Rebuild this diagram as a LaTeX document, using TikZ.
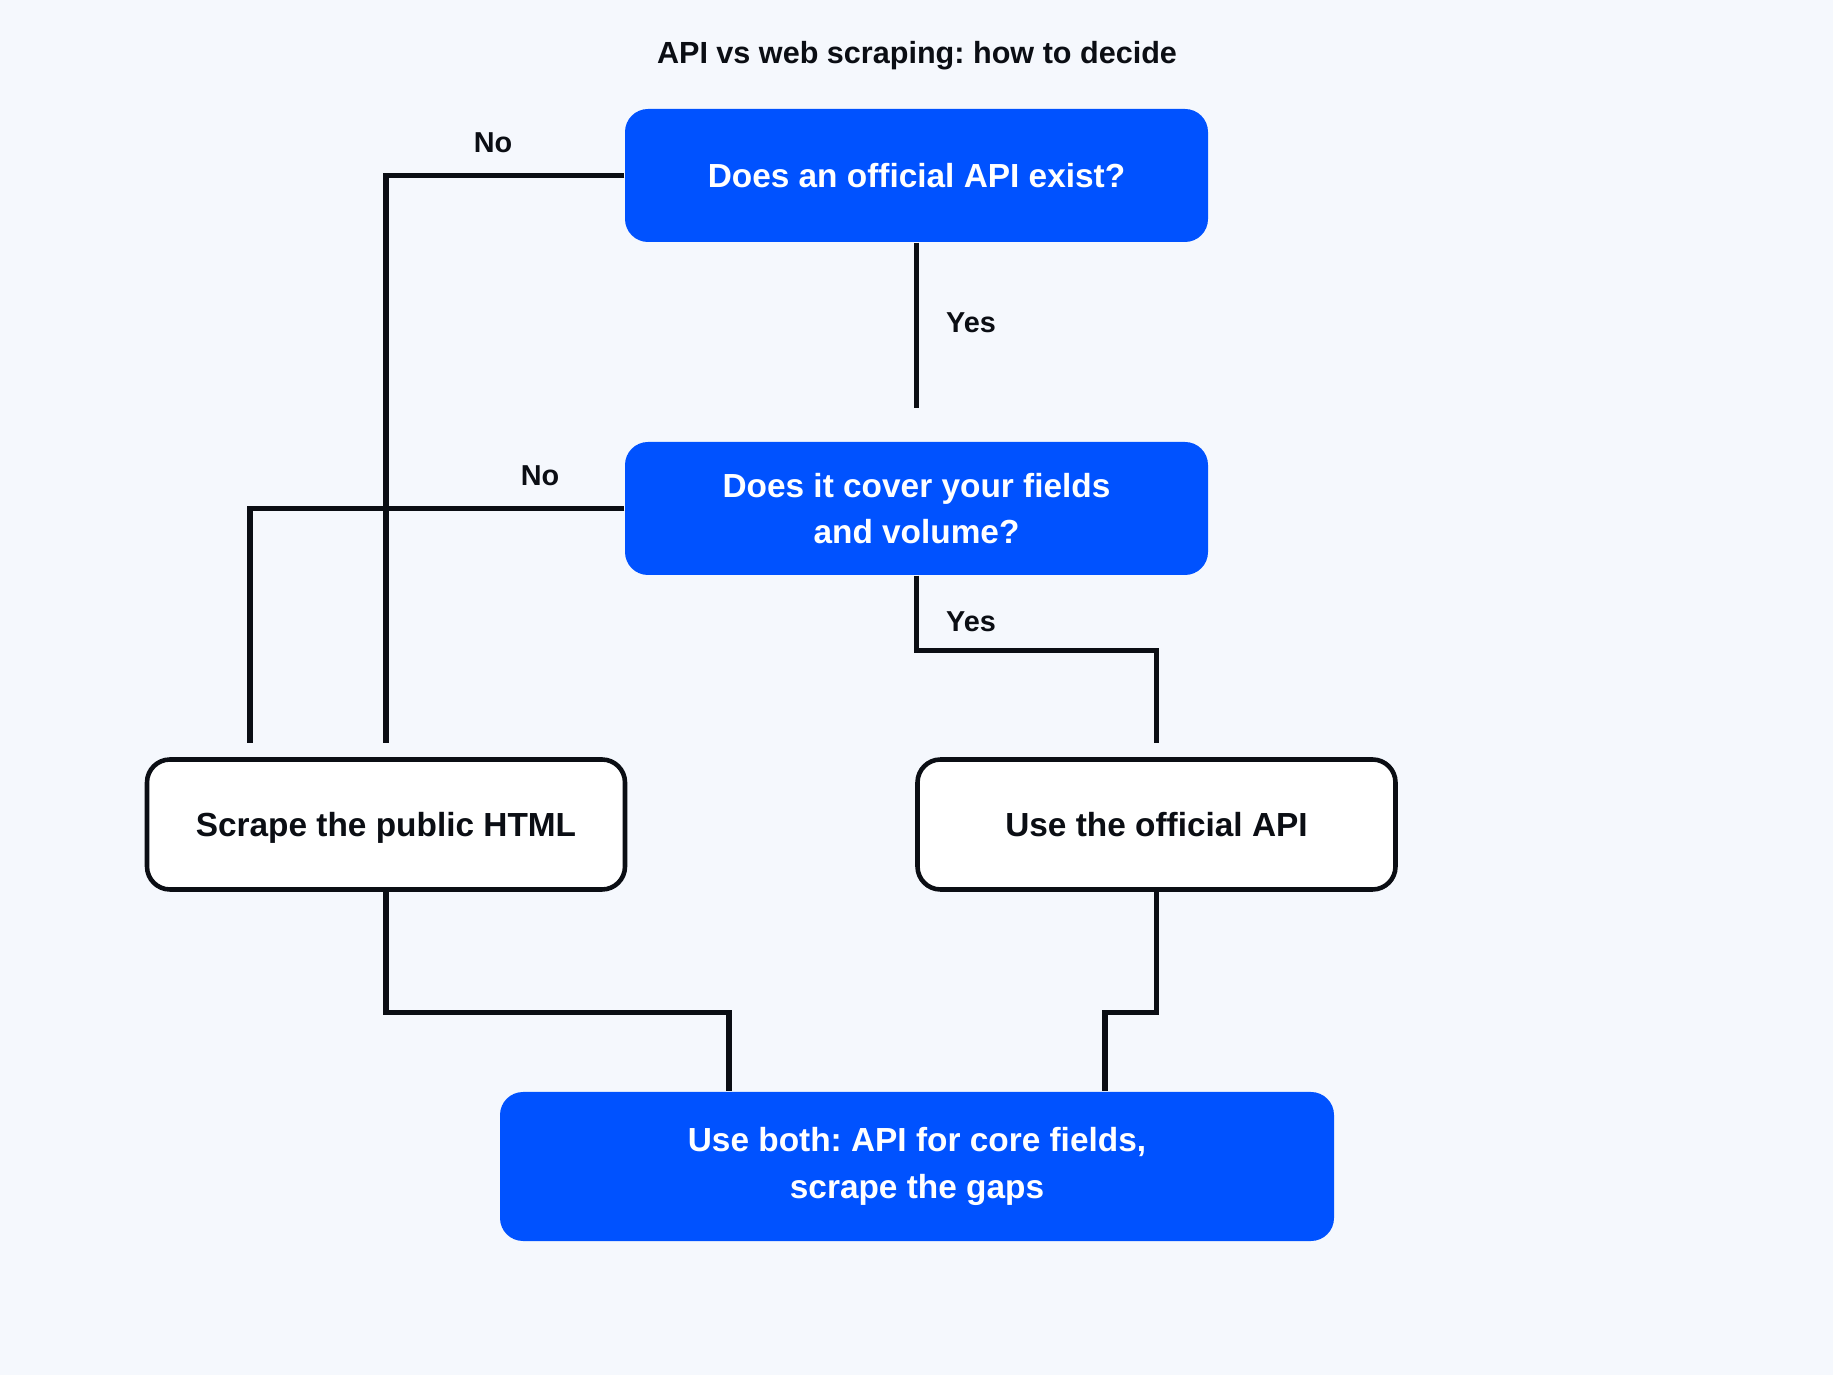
\documentclass[tikz,border=0pt]{standalone}
\usepackage{fontspec}
\setmainfont{Liberation Sans}
\usepackage{tikz}
\usetikzlibrary{positioning,calc}
\definecolor{bgpage}{HTML}{F5F8FD}
\definecolor{askblue}{HTML}{0052FF}
\definecolor{inkline}{HTML}{0B0E14}
\tikzset{askbox/.style={rectangle, rounded corners=0.23cm, fill=askblue, text=white, align=center,
		font=\fontsize{9.5}{13.3}\selectfont\bfseries, inner sep=0pt}}
\tikzset{endbox/.style={rectangle, rounded corners=0.23cm, draw=inkline, line width=1.3pt, fill=white,
		text=inkline, align=center, font=\fontsize{9.5}{13.3}\selectfont\bfseries, inner sep=0pt,
		text height=0.9em, text depth=0.2em}}
\tikzset{link/.style={draw=inkline, line width=1.45pt}}
\tikzset{answer/.style={text=inkline, font=\fontsize{8.2}{10}\selectfont\bfseries, inner sep=0pt}}

\begin{document}
\frenchspacing
\begin{tikzpicture}
			
			\fill[bgpage] (0,0) rectangle (18.33,-13.75);
			\useasboundingbox (0,0) rectangle (18.33,-13.75);
			
			\node[text=inkline, font=\fontsize{8.7}{10}\selectfont\bfseries] (title) at (9.17,-0.56) {API vs web scraping: how to decide};
			
			\node[askbox, minimum width=5.83cm, minimum height=1.33cm] (q1) at (9.165,-1.755) {Does an official API exist?};
			\node[askbox, minimum width=5.83cm, minimum height=1.33cm] (q2) at (9.165,-5.085) {Does it cover your fields\\and volume?};
			\node[endbox, minimum width=4.78cm, minimum height=1.30cm] (scrape) at (3.86,-8.245) {Scrape the public HTML};
			\node[endbox, minimum width=4.78cm, minimum height=1.30cm] (useapi) at (11.565,-8.245) {Use the official API};
			\node[askbox, minimum width=8.34cm, minimum height=1.49cm] (both) at (9.17,-11.665) {Use both: API for core fields,\\scrape the gaps};
			
			% answers
			\draw[link, shorten >=0.14cm] (q1.west) -| (scrape.north);
			\draw[link, shorten >=0.33cm] (q1.south) -- (q2.north);
			\draw[link, shorten >=0.14cm] (q2.west) -| ([xshift=-1.36cm]scrape.north);
			\draw[link, shorten >=0.14cm] (q2.south) -- ++(0,-0.75) -| (useapi.north);
			\draw[link] (scrape.south) -- ++(0,-1.21) -| ([xshift=-1.88cm]both.north);
			\draw[link] (useapi.south) -- ++(0,-1.21) -| ([xshift=1.88cm]both.north);
			
			\node[answer] (no1) at (4.93,-1.43) {No};
			\node[answer] (yes1) at (9.71,-3.23) {Yes};
			\node[answer] (no2) at (5.40,-4.76) {No};
			\node[answer] (yes2) at (9.71,-6.22) {Yes};
			
\end{tikzpicture}
\end{document}
